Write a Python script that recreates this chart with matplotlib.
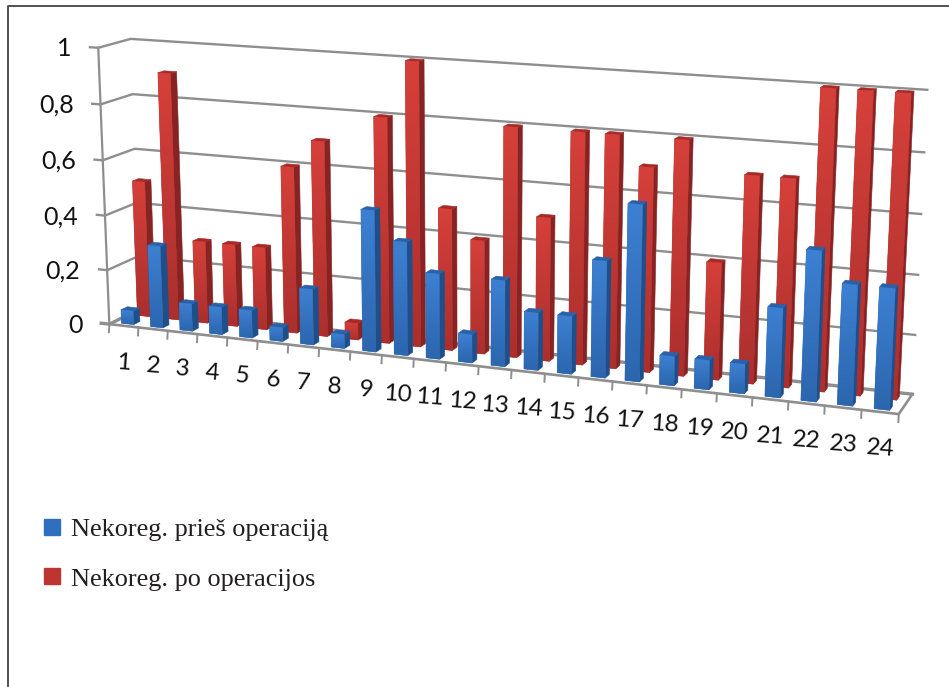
import numpy as np
import matplotlib
matplotlib.use("Agg")
import matplotlib.pyplot as plt
from matplotlib.lines import Line2D
from matplotlib.patches import Polygon

# ---- data ----
categories = [str(i) for i in range(1, 25)]
before_op = [0.05, 0.3, 0.1, 0.1, 0.1, 0.05, 0.2, 0.05, 0.5, 0.4, 0.3, 0.1,
             0.3, 0.2, 0.2, 0.4, 0.6, 0.1, 0.1, 0.1, 0.3, 0.5, 0.4, 0.4]
after_op = [0.5, 0.9, 0.3, 0.3, 0.3, 0.6, 0.7, 0.06, 0.8, 1.0, 0.5, 0.4,
            0.8, 0.5, 0.8, 0.8, 0.7, 0.8, 0.4, 0.7, 0.7, 1.0, 1.0, 1.0]
series_names = ["Nekoreg. prieš operaciją", "Nekoreg. po operacijos"]
y_ticks = [0, 0.2, 0.4, 0.6, 0.8, 1]
y_labels = ["0", "0,2", "0,4", "0,6", "0,8", "1"]

# ---- camera: fitted from box anchors (category u, depth d, value v) -> pixel ----
anchors = [
    ((0, 0, 0), (112, 323)), ((0, 1, 0), (138, 312)), ((24, 1, 0), (912, 393)),
    ((24, 0, 0), (900, 415)), ((0, 1, 1), (132, 38)), ((24, 1, 1), (927, 91)),
    ((0, 0, 1), (96, 49)), ((8, 0, 0), (350, 351)), ((12, 0, 0), (478, 366)),
    ((18, 0, 0), (681, 389.5)), ((0, 0, .6), (102.7, 160)), ((0, 1, .6), (136, 147)),
    ((24, 1, .6), (921.7, 214.3)), ((24, 1, .2), (915, 334)),
]
A = []
for (u, d, v), (x, y) in anchors:
    A.append([u, d, v, 1, 0, 0, 0, 0, -x*u, -x*d, -x*v, -x])
    A.append([0, 0, 0, 0, u, d, v, 1, -y*u, -y*d, -y*v, -y])
P = np.linalg.svd(np.array(A, float))[2][-1].reshape(3, 4)


def proj(u, d, v):
    h = P @ np.array([u, d, v, 1.0])
    return h[0] / h[2], h[1] / h[2]


fig = plt.figure(figsize=(9.49, 6.87), dpi=100)
ax = fig.add_axes([0, 0, 1, 1])
ax.set_xlim(0, 949)
ax.set_ylim(687, 0)
ax.axis("off")

GRID = "#8e8e8e"
TXT = "#111111"

# frame of the page
ax.plot([949, 8.5, 8.5], [6, 6, 687], color="#444444", lw=1.3, zorder=1)

# floor + walls
for t in y_ticks:
    pts = [proj(-0.28, 0, t), proj(0, 0, t), proj(0, 1, t), proj(24, 1, t)]
    ax.plot(*zip(*pts), color=GRID, lw=1.7 if t else 2.4, zorder=2, solid_joinstyle="round")
ax.plot(*zip(proj(0, 0, 0), proj(0, 0, 1)), color=GRID, lw=1.6, zorder=2)
ax.plot(*zip(proj(0, 0, 0), proj(24, 0, 0), proj(24, 1, 0)), color=GRID, lw=1.9, zorder=2)
for i in range(25):
    x0, y0 = proj(i, 0, 0)
    ax.plot([x0, x0 - 0.4], [y0, y0 + 8], color=GRID, lw=1.4, zorder=2)


def bar(i, val, d0, d1, c_top, c_bot, c_side, c_cap, z):
    u0, u1 = i + 0.29, i + 0.71
    front = [proj(u0, d0, 0), proj(u1, d0, 0), proj(u1, d0, val), proj(u0, d0, val)]
    side = [proj(u1, d0, 0), proj(u1, d1, 0), proj(u1, d1, val), proj(u1, d0, val)]
    cap = [proj(u0, d0, val), proj(u1, d0, val), proj(u1, d1, val), proj(u0, d1, val)]
    ax.add_patch(Polygon(side, fc=c_side, ec=c_side, lw=0.4, zorder=z))
    ax.add_patch(Polygon(cap, fc=c_cap, ec=c_cap, lw=0.4, zorder=z))
    fp = Polygon(front, fc=c_bot, ec=c_bot, lw=0.4, zorder=z)
    ax.add_patch(fp)
    xs, ys = zip(*front)
    c0, c1 = np.array(matplotlib.colors.to_rgb(c_top)), np.array(matplotlib.colors.to_rgb(c_bot))
    t = np.linspace(0, 1, 40)[:, None, None]
    ramp = c0[None, None, :] * (1 - t) + c1[None, None, :] * t
    im = ax.imshow(ramp, extent=(min(xs), max(xs), max(ys), min(ys)), aspect="auto",
                   interpolation="bilinear", zorder=z + 0.1)
    im.set_clip_path(fp)


for i, val in enumerate(after_op):
    bar(i, val, 0.63, 0.83, "#d6403a", "#ab2f2d", "#872423", "#a82a28", 3)
for i, val in enumerate(before_op):
    bar(i, val, 0.12, 0.32, "#3d80d2", "#2c66ae", "#1f4f8a", "#2a62a8", 5)

ax.set_xlim(0, 949)
ax.set_ylim(687, 0)

# tick labels
for t, lab in zip(y_ticks, y_labels):
    x, y = proj(0, 0, t)
    ax.text(x - 27, y + 1, lab, ha="right", va="center", fontsize=18,
            family="Lato", color=TXT, zorder=8)
for i, lab in enumerate(categories):
    x, y = proj(i + 0.5, 0, 0)
    ax.text(x, y + 37, lab, ha="center", va="center", fontsize=17.5, rotation=-4,
            family="Lato", color=TXT, zorder=8)

# legend
handles = [Line2D([], [], ls="", marker="s", ms=11.5, mfc=c, mec=c)
           for c in ("#2f6fbe", "#bd3431")]
leg = ax.legend(handles, series_names, loc="upper left", bbox_to_anchor=(0.0432, 0.2467),
                frameon=False, handlelength=0.85, handletextpad=0.3, labelspacing=1.0,
                borderpad=0, borderaxespad=0,
                prop={"family": "Liberation Serif", "size": 18.9})
for txt in leg.get_texts():
    txt.set_color("#231f20")

fig.savefig("out.png", dpi=100)
